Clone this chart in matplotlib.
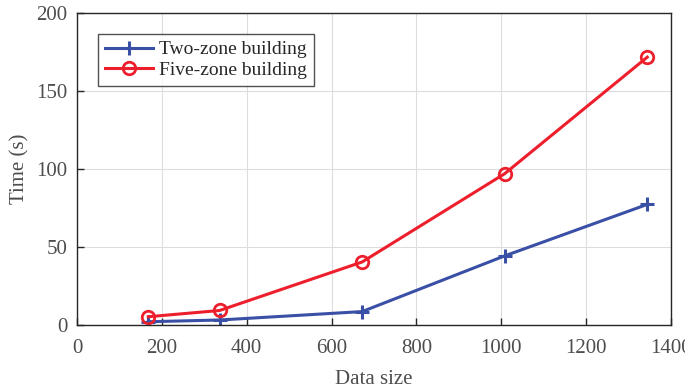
import matplotlib
matplotlib.use("Agg")
import matplotlib.pyplot as plt

data_size = [168, 336, 672, 1008, 1344]
two_zone = [2.1, 3.2, 8.6, 44.3, 77.3]
five_zone = [5.3, 9.3, 40.4, 97.0, 171.7]

plt.rcParams['font.family'] = ['Liberation Serif', 'DejaVu Serif']
plt.rcParams['mathtext.fontset'] = 'stix'

fig = plt.figure(figsize=(6.85, 3.9), dpi=100)
ax = fig.add_axes([77/685, 1-325/390, (671-77)/685, (325-13)/390])

ax.plot(data_size, two_zone, color='#3A4FA6', lw=2.2, marker='+', ms=10, mew=2.2,
        label='Two-zone building')
ax.plot(data_size, five_zone, color='#EE1F2D', lw=2.2, marker='o', ms=9, mew=2.0,
        mfc='none', label='Five-zone building')

ax.set_xlim(0, 1400)
ax.set_ylim(0, 200)
ax.set_xticks(range(0, 1401, 200))
ax.set_yticks(range(0, 201, 50))
ax.grid(True, color='#DDDDDD', lw=0.8)
ax.set_axisbelow(True)
for s in ax.spines.values():
    s.set_color('#262626')
    s.set_linewidth(1.0)
ax.tick_params(direction='in', length=5, width=1.0, colors='#262626',
               labelsize=15, labelcolor='#4D4D4D')
ax.tick_params(axis='x', pad=10)
ax.tick_params(axis='y', pad=7)
ax.set_xlabel('Data size', fontsize=15, color='#4D4D4D', labelpad=9)
ax.set_ylabel('Time (s)', fontsize=15, color='#4D4D4D', labelpad=5)

leg = ax.legend(loc='upper left', bbox_to_anchor=(21/594, 1 - 21/312), fontsize=14,
                frameon=True, fancybox=False, edgecolor='#262626',
                handlelength=2.5, borderpad=0.35, labelspacing=0.15,
                handletextpad=0.3, borderaxespad=0)
leg.get_frame().set_linewidth(1.0)
for t in leg.get_texts():
    t.set_color('#262626')

fig.savefig('out.png', dpi=100)
